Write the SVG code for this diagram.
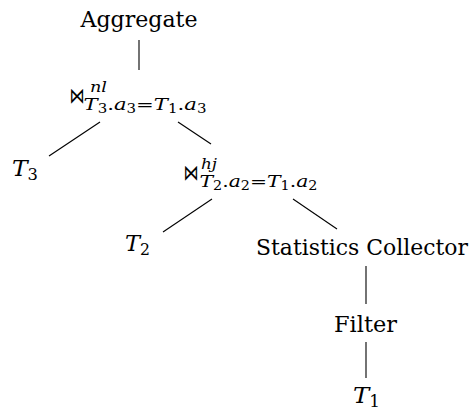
<svg xmlns="http://www.w3.org/2000/svg" width="476" height="410" viewBox="0 0 476 410">
<style>
.t{font-family:'DejaVu Serif',serif;fill:#000}
.lbl{font-size:23px}
.it{font-style:italic}
.rm{font-style:normal}
.bt{font-family:'DejaVu Sans',sans-serif;font-size:15px}
.sup{font-size:15px;font-style:italic}
.sub{font-size:17px;font-style:italic}
.edge{stroke:#000;stroke-width:1.1;fill:none}
</style>
<rect width="476" height="410" fill="#fff"/>
<g id="connectors">
<line class="edge" x1="139" y1="40" x2="139" y2="70"/>
<line class="edge" x1="100" y1="122" x2="49" y2="156"/>
<line class="edge" x1="178" y1="122" x2="211" y2="144"/>
<line class="edge" x1="212" y1="199" x2="163" y2="232"/>
<line class="edge" x1="293" y1="199" x2="337" y2="229"/>
<line class="edge" x1="366" y1="266" x2="366" y2="304"/>
<line class="edge" x1="366" y1="342" x2="366" y2="378"/>
</g>
<g id="aggregate">
<text class="t lbl" x="139" y="27" text-anchor="middle" textLength="117" lengthAdjust="spacingAndGlyphs">Aggregate</text>
</g>
<g id="join-nl">
<text class="bt" transform="translate(69.5,103) scale(1,1.45)">⋈</text>
<text class="t sup" x="90" y="92" textLength="17" lengthAdjust="spacingAndGlyphs">nl</text>
<text class="t sub" x="83.5" y="110" textLength="123" lengthAdjust="spacingAndGlyphs">T<tspan class="rm" font-size="12" dy="3">3</tspan><tspan class="rm" dy="-3">.</tspan>a<tspan class="rm" font-size="12" dy="3">3</tspan><tspan class="rm" dy="-3">=</tspan>T<tspan class="rm" font-size="12" dy="3">1</tspan><tspan class="rm" dy="-3">.</tspan>a<tspan class="rm" font-size="12" dy="3">3</tspan></text>
</g>
<g id="t3">
<text class="t lbl it" x="12" y="176" textLength="26" lengthAdjust="spacingAndGlyphs">T<tspan class="rm" font-size="16" dy="4">3</tspan></text>
</g>
<g id="join-hj">
<text class="bt" transform="translate(183.5,180) scale(1,1.45)">⋈</text>
<text class="t sup" x="201" y="169" textLength="16" lengthAdjust="spacingAndGlyphs">hj</text>
<text class="t sub" x="199.5" y="187" textLength="118" lengthAdjust="spacingAndGlyphs">T<tspan class="rm" font-size="12" dy="3">2</tspan><tspan class="rm" dy="-3">.</tspan>a<tspan class="rm" font-size="12" dy="3">2</tspan><tspan class="rm" dy="-3">=</tspan>T<tspan class="rm" font-size="12" dy="3">1</tspan><tspan class="rm" dy="-3">.</tspan>a<tspan class="rm" font-size="12" dy="3">2</tspan></text>
</g>
<g id="t2">
<text class="t lbl it" x="125" y="251" textLength="25" lengthAdjust="spacingAndGlyphs">T<tspan class="rm" font-size="16" dy="4">2</tspan></text>
</g>
<g id="stats">
<text class="t" font-size="22" x="256" y="255" textLength="212" lengthAdjust="spacingAndGlyphs">Statistics Collector</text>
</g>
<g id="filter">
<text class="t lbl" x="334" y="332" textLength="63" lengthAdjust="spacingAndGlyphs">Filter</text>
</g>
<g id="t1">
<text class="t lbl it" x="353" y="403" textLength="27" lengthAdjust="spacingAndGlyphs">T<tspan class="rm" font-size="16" dy="4">1</tspan></text>
</g>
</svg>
